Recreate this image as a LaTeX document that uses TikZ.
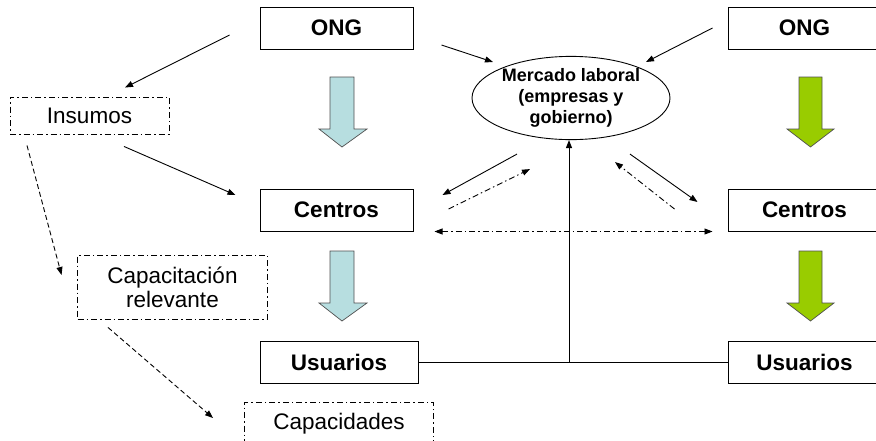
\documentclass[tikz,border=0pt]{standalone}
\usepackage{fontspec}
\setmainfont{Liberation Sans}
\usetikzlibrary{arrows.meta,shapes.geometric}
\definecolor{lblue}{RGB}{183,222,224}
\definecolor{lgreen}{RGB}{153,204,0}
\definecolor{bedge}{RGB}{80,80,80}
\begin{document}
\begin{tikzpicture}[x=1pt,y=-1pt,
  solidbox/.style={draw=black,line width=1pt,minimum width=153pt,minimum height=42pt,inner sep=0pt,
    font=\fontsize{22.5}{26}\selectfont\bfseries},
  dotbox/.style={draw=black,line width=0.9pt,dash pattern=on 6pt off 3pt on 1.5pt off 3pt,inner sep=0pt,
    align=center,font=\fontsize{22.5}{24}\selectfont},
  conn/.style={line width=0.9pt,-{Triangle[length=8pt,width=6pt]}},
  dashconn/.style={conn,dash pattern=on 5pt off 3pt},
  dotconn/.style={conn,dash pattern=on 6pt off 3pt on 1.5pt off 3pt},
  blockarrow/.style={draw=bedge,line width=0.7pt}]
\useasboundingbox (0,0) rectangle (876,440);

% nodes
\node[solidbox] (ong1) at (336.5,28) {ONG};
\node[solidbox] (ong2) at (804.5,28) {ONG};
\node[solidbox] (cen1) at (336.5,210) {Centros};
\node[solidbox] (cen2) at (804.5,210) {Centros};
\node[solidbox,minimum width=158pt] (usu1) at (339,362) {Usuarios};
\node[solidbox] (usu2) at (804.5,362) {Usuarios};
\node[dotbox,minimum width=159pt,minimum height=37pt] (ins) at (89.5,115.5) {Insumos};
\node[dotbox,minimum width=190pt,minimum height=64pt] (cap) at (172.5,287) {Capacitación\\relevante};
\node[dotbox,minimum width=189pt,minimum height=44pt] (capd) at (339,424) {Capacidades};
\node[draw=black,line width=0.9pt,ellipse,minimum width=198pt,minimum height=82pt,inner sep=0pt,
  align=center,font=\fontsize{18}{21}\selectfont\bfseries] (merc) at (571,98)
  {Mercado laboral\\(empresas y\\gobierno)};

% block arrows
\draw[blockarrow,fill=lblue] (330,77) -- (354,77) -- (354,129) -- (367,129) -- (342,147) -- (319,129) -- (330,129) -- cycle;
\draw[blockarrow,fill=lblue] (330,251) -- (354,251) -- (354,303) -- (367,303) -- (342,321) -- (319,303) -- (330,303) -- cycle;
\draw[blockarrow,fill=lgreen] (799,77) -- (822,77) -- (822,129) -- (834,129) -- (810.5,147) -- (787,129) -- (799,129) -- cycle;
\draw[blockarrow,fill=lgreen] (799,251) -- (822,251) -- (822,303) -- (834,303) -- (810.5,321) -- (787,303) -- (799,303) -- cycle;

% connectors
\draw[conn] ([shift={(-30,7)}]ong1.west) -- ([shift={(35.5,-9)}]ins.north);
\draw[conn] ([shift={(34.5,12)}]ins.south) -- ([shift={(-24,-15)}]cen1.west);
\draw[dashconn] ([shift={(-62.5,11)}]ins.south) -- ([shift={(-15.5,-12)}]cap.west);
\draw[dashconn] ([shift={(-64.5,8)}]cap.south) -- ([shift={(-31,-6)}]capd.west);
\draw[conn] ([shift={(28,17)}]ong1.east) -- ([shift={(-78,-36)}]merc.center);
\draw[conn] ([shift={(-15,0)}]ong2.west) -- ([shift={(75,-36)}]merc.center);
\draw[conn] ([shift={(-54,14)}]merc.south) -- ([shift={(29,-15)}]cen1.east);
\draw[dotconn] ([shift={(35,-1)}]cen1.east) -- ([shift={(-41,29)}]merc.south);
\draw[conn] ([shift={(59,14)}]merc.south) -- ([shift={(-30,-8)}]cen2.west);
\draw[dotconn] ([shift={(-53,-1)}]cen2.west) -- ([shift={(44,22)}]merc.south);
\draw[dotconn,{Triangle[length=8pt,width=6pt]}-{Triangle[length=8pt,width=6pt]}]
  ([shift={(21,0)}]cen1.south east) -- ([shift={(-15,0)}]cen2.south west);
\draw[line width=1pt] (usu1.east) -- (usu2.west);
\draw[conn] ([xshift=-2pt]merc.south |- usu1.east) -- ([xshift=-2pt]merc.south);
\end{tikzpicture}
\end{document}
